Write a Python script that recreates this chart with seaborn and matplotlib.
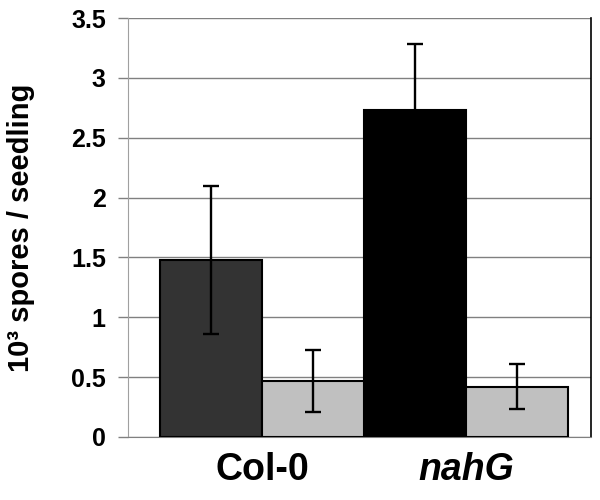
import pandas as pd
import seaborn as sns
import matplotlib.pyplot as plt

# Spore counts (10^3 spores per seedling)
genotypes = ['Col-0', 'nahG']
treatments = ['A', 'B']
means = [1.48, 0.47, 2.73, 0.42]
errors = [0.62, 0.26, 0.55, 0.19]
bar_colors = ['#333333', '#c0c0c0', '#000000', '#c0c0c0']
y_ticks = [0, 0.5, 1, 1.5, 2, 2.5, 3, 3.5]
y_labels = ['0', '0.5', '1', '1.5', '2', '2.5', '3', '3.5']

df = pd.DataFrame({
    'genotype': [g for g in genotypes for _ in treatments],
    'treatment': treatments * len(genotypes),
    'mean': means,
})

sns.set_style('white')
plt.rcParams['font.family'] = ['Liberation Sans', 'DejaVu Sans']
plt.rcParams['text.color'] = 'black'
plt.rcParams['axes.labelcolor'] = 'black'

fig = plt.figure(figsize=(6, 5), dpi=100)
ax = fig.add_axes([0.2133, 0.126, 0.7717, 0.838])

sns.barplot(data=df, x='genotype', y='mean', hue='treatment', width=1.0,
            errorbar=None, legend=False, ax=ax, zorder=3,
            edgecolor='black', linewidth=1.5)

# colour each bar and add the error bars at the bar centres
bars = sorted(ax.patches, key=lambda p: p.get_x())
xs = []
for p, c in zip(bars, bar_colors):
    p.set_facecolor(c)
    xs.append(p.get_x() + p.get_width() / 2)
ax.errorbar(xs, means, yerr=errors, fmt='none', ecolor='black',
            elinewidth=1.7, capsize=6, capthick=1.7, zorder=4)

ax.set_ylim(0, 3.5)
ax.set_xlim(-0.657, 1.613)
ax.set_yticks(y_ticks)
ax.set_yticklabels(y_labels)
ax.yaxis.grid(True, color='#808080', linewidth=1)
ax.set_axisbelow(True)

ax.tick_params(axis='y', length=7, width=1, color='#808080', direction='out',
               pad=9, labelsize=18, labelcolor='black')
ax.tick_params(axis='x', length=0, pad=11, labelsize=27, labelcolor='black')
ax.yaxis.set_tick_params(left=True)
for lab in ax.get_yticklabels():
    lab.set_fontweight('bold')
for lab in ax.get_xticklabels():
    lab.set_fontweight('bold')
ax.get_xticklabels()[1].set_fontstyle('italic')

ax.spines['top'].set_visible(False)
ax.spines['left'].set_color('#a0a0a0')
ax.spines['bottom'].set_color('#808080')
ax.spines['right'].set_color('black')
ax.spines['right'].set_linewidth(1.2)

ax.set_xlabel('')
ax.set_ylabel('10³ spores / seedling', fontsize=21, fontweight='bold', color='black')
ax.yaxis.set_label_coords(-0.20, 0.5)

fig.savefig('out.png', dpi=100)
